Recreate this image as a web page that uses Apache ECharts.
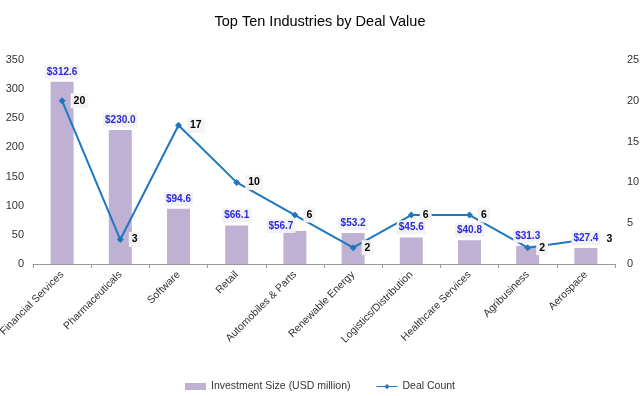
<!DOCTYPE html>
<html>
<head>
<meta charset="utf-8">
<script src="https://cdn.jsdelivr.net/npm/echarts@6/dist/echarts.min.js"></script>
<style>
  html, body { margin: 0; padding: 0; background: #fff; }
  #chart { width: 640px; height: 396px; }
</style>
</head>
<body>
<div id="chart"></div>
<script>
// data
const industries = [
    "Financial Services", "Pharmaceuticals", "Software", "Retail",
    "Automobiles & Parts", "Renewable Energy", "Logistics/Distribution",
    "Healthcare Services", "Agribusiness", "Aerospace",
];
const investmentSize = [312.6, 230.0, 94.6, 66.1, 56.7, 53.2, 45.6, 40.8, 31.3, 27.4];
const dealCount = [20, 3, 17, 10, 6, 2, 6, 6, 2, 3];

const chart = echarts.init(document.getElementById("chart"));
const font = "Liberation Sans, Arial, sans-serif";
const barColor = "#bfb1d4";
const lineColor = "#1f77c0";

// a few labels were nudged by hand in the original
const lineData = dealCount.map((v, i) =>
    i === dealCount.length - 1 ? { value: v, label: { distance: 14, backgroundColor: "transparent" } } : v
);
const labelData = investmentSize.map((v, i) =>
    i === 4 ? { value: v, label: { offset: [-14, 5] } } : v
);

chart.setOption({
    textStyle: { fontFamily: font },
    title: {
        text: "Top Ten Industries by Deal Value",
        left: "center",
        top: 9,
        textStyle: { fontSize: 14.5, fontWeight: "normal", color: "#000", fontFamily: font },
    },
    legend: {
        bottom: -1,
        itemGap: 26,
        textStyle: { fontSize: 10.5, color: "#333" },
        data: [
            { name: "Investment Size (USD million)", icon: "rect", itemStyle: { color: barColor } },
            { name: "Deal Count", icon: "path://M0,5 L40,5 L40,7 L0,7 Z M20,1 L25,6 L20,11 L15,6 Z" },
        ],
        itemWidth: 21,
        itemHeight: 7,
    },
    grid: { left: 33, right: 25, top: 60, bottom: 132, containLabel: false, outerBoundsMode: "none" },
    xAxis: {
        type: "category",
        data: industries,
        axisLine: { lineStyle: { color: "#999" } },
        axisTick: { show: true, alignWithLabel: false, length: 4, lineStyle: { color: "#999" } },
        axisLabel: { rotate: 45, fontSize: 10.5, color: "#333", interval: 0, margin: 9 },
    },
    yAxis: [
        {
            type: "value",
            min: 0, max: 350, interval: 50,
            splitLine: { show: false },
            axisLine: { show: false },
            axisLabel: { fontSize: 11, color: "#333", margin: 9 },
        },
        {
            type: "value",
            min: 0, max: 25, interval: 5,
            splitLine: { show: false },
            axisLine: { show: false },
            axisLabel: { fontSize: 11, color: "#333", margin: 12 },
        },
    ],
    series: [
        {
            name: "Investment Size (USD million)",
            type: "bar",
            data: investmentSize,
            barWidth: 23,
            z: 1,
            itemStyle: { color: barColor },
        },
        {
            name: "Deal Count",
            type: "line",
            yAxisIndex: 1,
            data: lineData,
            z: 3,
            symbol: "diamond",
            symbolSize: 7,
            color: lineColor,
            lineStyle: { width: 2, color: lineColor },
            itemStyle: { color: lineColor },
            label: {
                show: true,
                position: "right",
                distance: 5,
                color: "#000",
                fontWeight: "bold",
                fontSize: 10.5,
                backgroundColor: "#f4f4f4",
                padding: [2, 3],
            },
        },
        {
            // transparent overlay that carries the bar labels above the line
            name: "labels",
            type: "bar",
            data: labelData,
            barWidth: 23,
            barGap: "-100%",
            z: 5,
            silent: true,
            itemStyle: { color: "transparent" },
            label: {
                show: true,
                position: "top",
                distance: 3,
                formatter: (p) => "$" + p.value.toFixed(1),
                color: "#2b2bdc",
                fontWeight: "bold",
                fontSize: 10,
                backgroundColor: "#f2f2f2",
                padding: [2, 2],
            },
        },
    ],
});
</script>
</body>
</html>
